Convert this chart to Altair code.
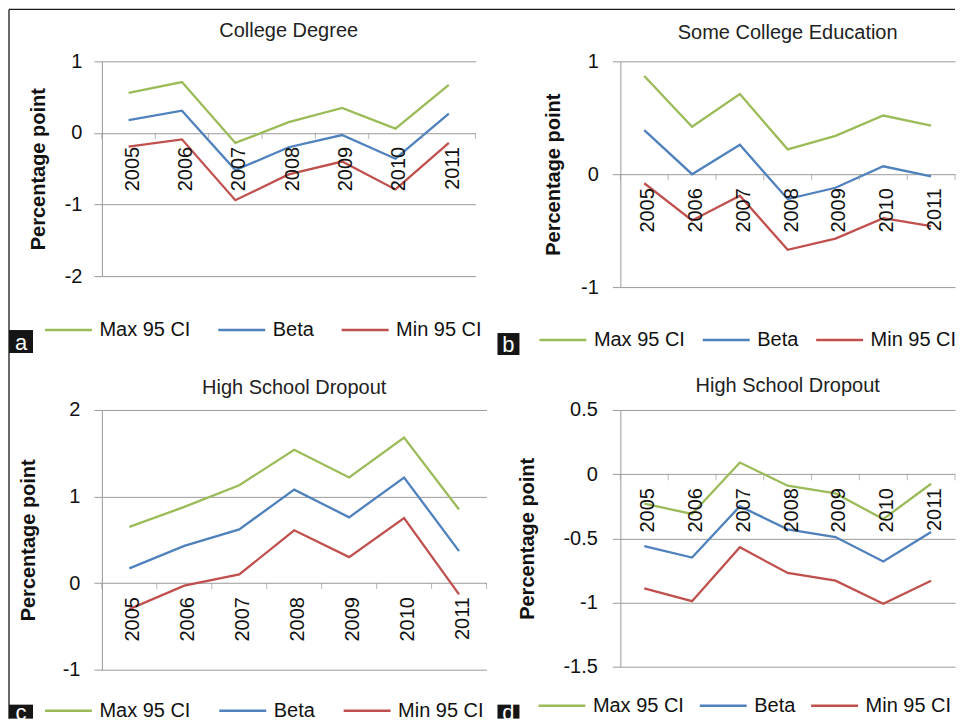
import altair as alt
import pandas as pd

FONT = "Liberation Sans"

years = [2005, 2006, 2007, 2008, 2009, 2010, 2011]
series_names = ["Max 95 CI", "Beta", "Min 95 CI"]
series_colors = ["#9BBB59", "#4F81BD", "#C0504D"]

panel_titles = ["College Degree", "Some College Education", "High School Dropout", "High School Dropout"]
panel_letters = ["a", "b", "c", "d"]

# Panel a: College Degree
a_max = [0.56, 0.71, -0.14, 0.15, 0.35, 0.06, 0.67]
a_beta = [0.18, 0.31, -0.52, -0.20, -0.03, -0.36, 0.27]
a_min = [-0.19, -0.09, -0.94, -0.58, -0.40, -0.79, -0.14]

# Panel b: Some College Education
b_max = [0.87, 0.42, 0.71, 0.22, 0.34, 0.52, 0.43]
b_beta = [0.39, 0.00, 0.26, -0.22, -0.12, 0.07, -0.02]
b_min = [-0.08, -0.41, -0.19, -0.67, -0.57, -0.39, -0.46]

# Panel c: High School Dropout
c_max = [0.65, 0.88, 1.13, 1.54, 1.22, 1.68, 0.85]
c_beta = [0.17, 0.43, 0.62, 1.08, 0.76, 1.22, 0.37]
c_min = [-0.30, -0.03, 0.10, 0.61, 0.30, 0.75, -0.13]

# Panel d: High School Dropout
d_max = [-0.23, -0.31, 0.09, -0.09, -0.15, -0.35, -0.075]
d_beta = [-0.56, -0.65, -0.25, -0.43, -0.49, -0.68, -0.45]
d_min = [-0.89, -0.99, -0.57, -0.77, -0.83, -1.01, -0.83]

y_domains = [[-2, 1], [-1, 1], [-1, 2], [-1.5, 0.5]]
y_ticks = [[-2, -1, 0, 1], [-1, 0, 1], [-1, 0, 1, 2], [-1.5, -1, -0.5, 0, 0.5]]

GRID = "#9a9a9a"
INK = "#111111"


def make_panel(i, vmax, vbeta, vmin, L):
    df = pd.DataFrame({
        "year": years * 3,
        "series": [s for s in series_names for _ in years],
        "value": vmax + vbeta + vmin,
    })
    xscale = alt.Scale(domain=[years[0] - 0.5, years[-1] + 0.5], nice=False, zero=False)
    lines = alt.Chart(df).mark_line(strokeWidth=2.3).encode(
        x=alt.X("year:Q", scale=xscale, axis=None),
        y=alt.Y("value:Q",
                scale=alt.Scale(domain=y_domains[i], nice=False, zero=False),
                axis=alt.Axis(values=y_ticks[i], title="Percentage point",
                              labelExpr="datum.value + ''",
                              labelPadding=L["lp"], titlePadding=L["tp"])),
        color=alt.Color("series:N",
                        scale=alt.Scale(domain=series_names, range=series_colors),
                        legend=alt.Legend(orient="none", legendX=L["lx"], legendY=L["ly"],
                                          direction="horizontal", title=None,
                                          symbolType="M-4.7,0H4.7", symbolSize=100,
                                          symbolStrokeWidth=2.5, labelOffset=21,
                                          columnPadding=L["cp"], labelFontSize=20,
                                          labelColor=INK, labelFont=FONT, labelLimit=300)),
    )
    bnd = [y - 0.5 for y in years] + [years[-1] + 0.5]
    ticks = alt.Chart(pd.DataFrame({"b": bnd})).mark_tick(
        orient="vertical", size=6, thickness=1, color=GRID, yOffset=3
    ).encode(x=alt.X("b:Q", axis=None), y=alt.datum(0))
    labels = alt.Chart(pd.DataFrame({"year": years, "label": [str(y) for y in years]})).mark_text(
        angle=270, align="right", baseline="middle", dx=-14, dy=4,
        fontSize=20, color=INK, font=FONT
    ).encode(x=alt.X("year:Q", axis=None), y=alt.datum(0), text="label:N")

    one = pd.DataFrame({"k": [0]})
    decor = []
    decor.append(alt.Chart(one).mark_text(fontSize=20, color="#222222", font=FONT,
                                          align="center", baseline="alphabetic").encode(
        x=alt.value(L["w"] / 2), y=alt.value(L["ty"]), text=alt.value(panel_titles[i])))
    bx0, bx1, by0, by1 = L["box"]
    decor.append(alt.Chart(one).mark_rect(color="#151515").encode(
        x=alt.value(bx0), x2=alt.value(bx1), y=alt.value(by0), y2=alt.value(by1)))
    decor.append(alt.Chart(one).mark_text(color="white", fontSize=22, font=FONT,
                                          align="center", baseline="middle").encode(
        x=alt.value((bx0 + bx1) / 2), y=alt.value((by0 + by1) / 2 + 1),
        text=alt.value(panel_letters[i])))
    if "frame" in L:
        fx, fy, fx2, fy2 = L["frame"]
        decor.append(alt.Chart(one).mark_rule(color="#1a1a1a", strokeWidth=1.3).encode(
            x=alt.value(fx), y=alt.value(fy), y2=alt.value(fy2)))
        decor.append(alt.Chart(one).mark_rule(color="#1a1a1a", strokeWidth=1.3).encode(
            x=alt.value(fx), x2=alt.value(fx2), y=alt.value(fy)))

    return alt.layer(lines, ticks, labels, *decor).properties(width=L["w"], height=L["h"])


La = dict(w=374, h=215, lp=12, tp=16, lx=-43.5, ly=259, cp=21.5, ty=-24,
          box=(-93, -69, 269, 292), frame=(-93, -52, 854, 658))
Lb = dict(w=335, h=226, lp=14, tp=17, lx=-67.5, ly=269, cp=11.5, ty=-22,
          box=(-123, -101, 272, 294))
Lc = dict(w=385, h=260, lp=14, tp=24, lx=-43.5, ly=291, cp=22.5, ty=-16,
          box=(-93, -69, 295, 309))
Ld = dict(w=335, h=257, lp=15, tp=25, lx=-68.5, ly=286, cp=9.5, ty=-18,
          box=(-123, -101, 295, 309))

pa = make_panel(0, a_max, a_beta, a_min, La)
pb = make_panel(1, b_max, b_beta, b_min, Lb)
pc = make_panel(2, c_max, c_beta, c_min, Lc)
pd_ = make_panel(3, d_max, d_beta, d_min, Ld)

chart = alt.concat(
    pa, pb, pc, pd_, columns=2,
    spacing={"row": 123, "column": 134},
    align={"row": "each", "column": "each"},
    bounds="flush",
).resolve_legend(color="independent").properties(padding=0).configure(
    font=FONT
).configure_view(stroke=None).configure_axis(
    grid=True, gridColor=GRID, gridWidth=1, domainColor=GRID, tickColor=GRID,
    tickSize=8, labelFontSize=20, labelColor=INK, labelFont=FONT,
    titleFontSize=20, titleFontWeight="bold", titleColor=INK, titleFont=FONT,
)

chart.save("out.html", embed_options={"renderer": "svg", "actions": False})
